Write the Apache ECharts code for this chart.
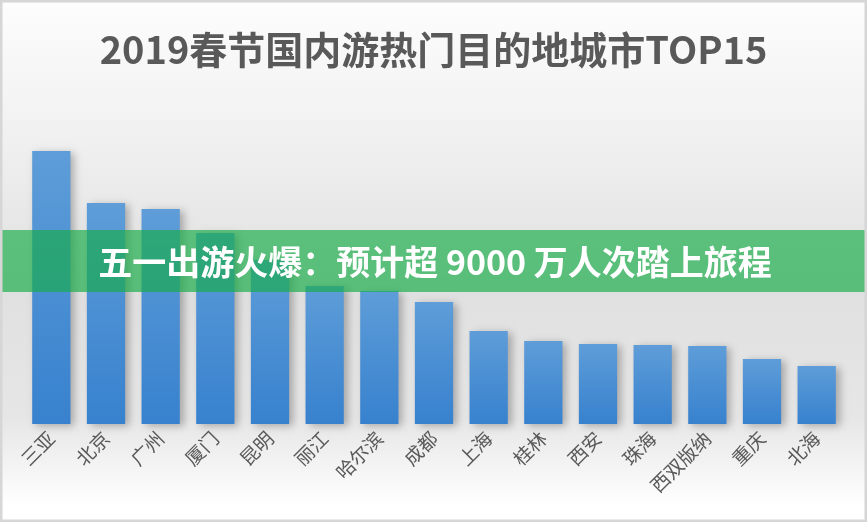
<!DOCTYPE html>
<html><head><meta charset="utf-8">
<script src="https://cdn.jsdelivr.net/npm/echarts@6/dist/echarts.min.js"></script>
<style>html,body{margin:0;padding:0;background:#fff}#c{width:867px;height:522px}</style>
</head><body><div id="c"></div>
<script>
var titleText = '2019春节国内游热门目的地城市TOP15';
var bannerText = '五一出游火爆：预计超 9000 万人次踏上旅程';
var categories = ['三亚','北京','广州','厦门','昆明','丽江','哈尔滨','成都','上海','桂林','西安','珠海','西双版纳','重庆','北海'];
var values = [273, 221, 215, 191, 164, 138, 133, 122, 93, 83, 80, 79, 78, 65, 58];

var chart = echarts.init(document.getElementById('c'), null, {renderer:'canvas'});
var G = echarts.graphic;
chart.setOption({
  animation:false,
  backgroundColor: new G.LinearGradient(0,0,0,1,[
    {offset:0,color:'#fdfdfd'},
    {offset:0.25,color:'#f1f1f1'},
    {offset:0.55,color:'#e0e0e0'},
    {offset:0.8,color:'#e6e6e6'},
    {offset:0.97,color:'#ffffff'},
    {offset:1,color:'#ffffff'}
  ]),
  title:{text:titleText,left:'center',top:26,
    textStyle:{fontFamily:'Noto Sans CJK SC',fontWeight:'bold',fontSize:38,color:'#595959'}},
  grid:{left:24,right:23,top:124,bottom:98,containLabel:false},
  xAxis:{type:'category',data:categories,
    axisLine:{show:false},axisTick:{show:false},
    axisLabel:{rotate:45,interval:0,margin:11,fontSize:19,color:'#595959',fontFamily:'Noto Sans CJK SC'}},
  yAxis:{type:'value',min:0,max:300,show:false,splitLine:{show:false}},
  series:[{type:'bar',data:values,barWidth:'70%',
    itemStyle:{
      color:new G.LinearGradient(0,0,0,1,[{offset:0,color:'#5e9dd8'},{offset:1,color:'#3781ce'}]),
      shadowColor:'rgba(0,0,0,0.28)',shadowBlur:8,shadowOffsetX:4,shadowOffsetY:2
    }}],
  graphic:[
    {type:'rect',z:100,shape:{x:0,y:230,width:867,height:62},style:{fill:'rgba(24,173,73,0.67)'}},
    {type:'text',z:101,x:435,y:262,style:{text:bannerText,fill:'#ffffff',font:'bold 34px "Noto Sans CJK SC"',textAlign:'center',textVerticalAlign:'middle'}},
    {type:'rect',z:102,shape:{x:1,y:1,width:865,height:520},style:{fill:'none',stroke:'#d6d6d6',lineWidth:3}}
  ]
});
</script></body></html>
